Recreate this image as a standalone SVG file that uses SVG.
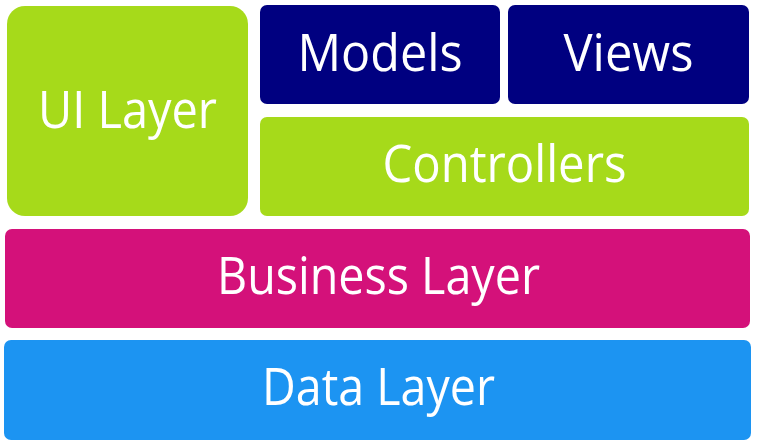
<svg xmlns="http://www.w3.org/2000/svg" width="757" height="446" viewBox="0 0 757 446">
<style>
.lbl{font-family:"Open Sans","Noto Sans","Liberation Sans",sans-serif;font-size:51px;fill:#ffffff;text-anchor:middle}
.green{fill:#a6da1a}
.navy{fill:#000080}
.mag{fill:#d4117a}
.blue{fill:#1c94f2}
</style>
<rect width="757" height="446" fill="#ffffff"/>
<g id="ui-layer">
<rect class="green" x="7" y="6" width="241" height="210" rx="18"/>
<text class="lbl" x="127.5" y="128" textLength="179" lengthAdjust="spacingAndGlyphs">UI Layer</text>
</g>
<g id="models">
<rect class="navy" x="260" y="5" width="240" height="99" rx="7"/>
<text class="lbl" x="380" y="71" textLength="165" lengthAdjust="spacingAndGlyphs">Models</text>
</g>
<g id="views">
<rect class="navy" x="508" y="5" width="241" height="99" rx="7"/>
<text class="lbl" x="628.5" y="71" textLength="130" lengthAdjust="spacingAndGlyphs">Views</text>
</g>
<g id="controllers">
<rect class="green" x="260" y="117" width="489" height="99" rx="7"/>
<text class="lbl" x="504.5" y="182" textLength="244" lengthAdjust="spacingAndGlyphs">Controllers</text>
</g>
<g id="business-layer">
<rect class="mag" x="5" y="229" width="745" height="99" rx="7"/>
<text class="lbl" x="378.5" y="294" textLength="323" lengthAdjust="spacingAndGlyphs">Business Layer</text>
</g>
<g id="data-layer">
<rect class="blue" x="4" y="340" width="747" height="100" rx="7"/>
<text class="lbl" x="378.5" y="405" textLength="233" lengthAdjust="spacingAndGlyphs">Data Layer</text>
</g>
<g id="connectors"></g>
</svg>
